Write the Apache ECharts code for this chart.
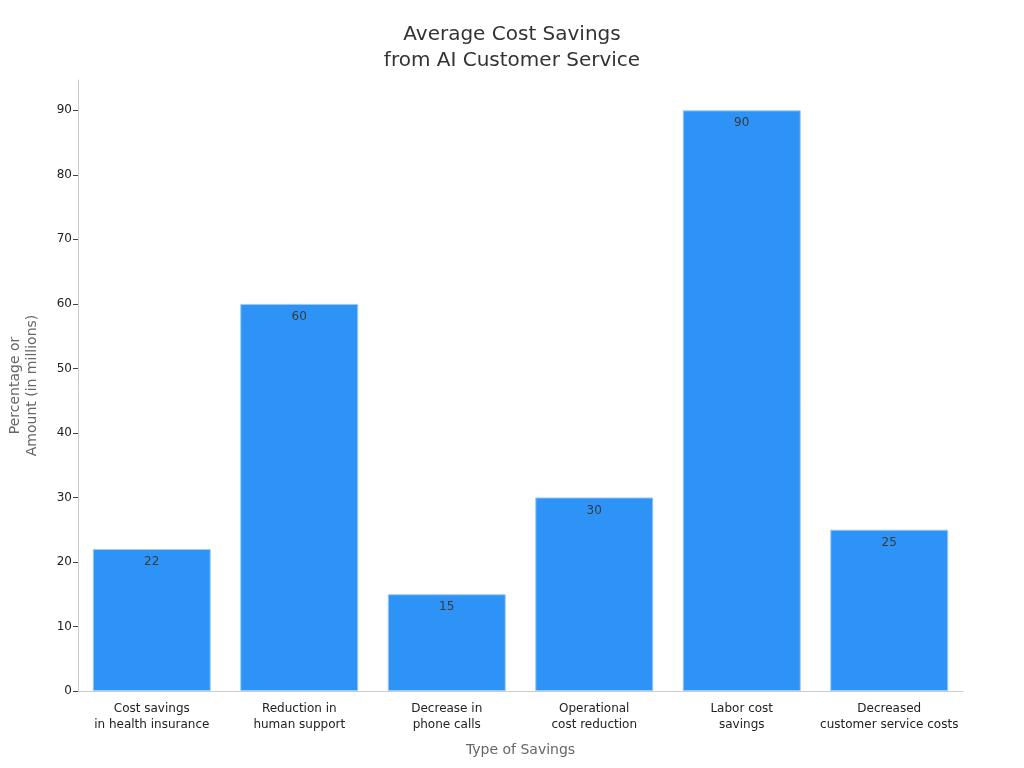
<!DOCTYPE html>
<html><head><meta charset="utf-8">
<script src="https://cdn.jsdelivr.net/npm/echarts@6/dist/echarts.min.js"></script>
<style>html,body{margin:0;padding:0;background:#fff}#c{width:1024px;height:768px}</style>
</head><body><div id="c"></div>
<script>
const categories = ["Cost savings\nin health insurance","Reduction in\nhuman support","Decrease in\nphone calls","Operational\ncost reduction","Labor cost\nsavings","Decreased\ncustomer service costs"];
const values = [22, 60, 15, 30, 90, 25];
const yTicks = [0,10,20,30,40,50,60,70,80,90];
const chart = echarts.init(document.getElementById('c'));
chart.setOption({
  animation:false,
  textStyle:{fontFamily:'DejaVu Sans'},
  title:{text:'Average Cost Savings\nfrom AI Customer Service',left:'center',top:17,
    textStyle:{fontSize:20,fontWeight:'normal',color:'#333',lineHeight:26,fontFamily:'DejaVu Sans'}},
  grid:{left:78,right:61,top:80,bottom:77,containLabel:false,outerBoundsMode:'none'},
  xAxis:{type:'category',data:categories,
    name:'Type of Savings',nameLocation:'middle',nameGap:52,
    nameTextStyle:{fontSize:14,color:'#666'},
    axisLine:{lineStyle:{color:'#ccc'}},
    axisTick:{alignWithLabel:true,length:5,lineStyle:{color:'#444'}},
    axisLabel:{fontSize:12,color:'#222',lineHeight:16,margin:10,interval:0}},
  yAxis:{type:'value',min:0,max:94.7,interval:10,
    name:'Percentage or\nAmount (in millions)',nameLocation:'middle',nameGap:37,nameRotate:90,
    nameTextStyle:{fontSize:14,color:'#666',lineHeight:17},
    axisLine:{show:true,lineStyle:{color:'#ccc'}},
    axisTick:{show:true,length:5,lineStyle:{color:'#444'},customValues:yTicks},
    axisLabel:{fontSize:12,color:'#222',margin:6,customValues:yTicks},
    splitLine:{show:false}},
  series:[{type:'bar',data:values,barWidth:'80%',
    itemStyle:{color:'#2E93F7',borderColor:'#9fcbf5',borderWidth:1},
    label:{show:true,position:'insideTop',offset:[0,2],fontSize:12,color:'#3a3a3a'}}]
});
</script></body></html>
